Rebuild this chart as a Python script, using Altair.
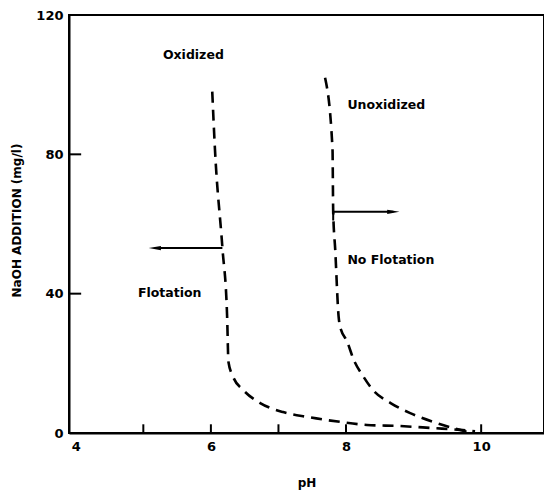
import altair as alt
import pandas as pd

# Curves (pH, addition mg/l)
ox_ph = [6.02, 6.06, 6.17, 6.24, 6.26, 6.33, 6.48, 6.73, 7.07, 7.43, 7.91, 8.31, 8.80, 9.29, 9.69, 9.91]
ox_val = [98, 81.5, 53.3, 33.5, 20.4, 16.1, 12.3, 8.6, 6.0, 4.6, 3.2, 2.3, 2.0, 1.4, 0.9, 0.5]
un_ph = [7.69, 7.80, 7.81, 7.84, 7.89, 7.91, 8.02, 8.11, 8.26, 8.40, 8.66, 8.95, 9.29, 9.59, 9.80]
un_val = [102, 81.5, 63.6, 52.7, 33.5, 30.7, 26.1, 21.2, 16.1, 12.3, 8.6, 5.7, 3.2, 1.4, 0.3]

# Annotations
label_text = ["Oxidized", "Unoxidized", "Flotation", "No Flotation"]
label_ph = [5.29, 8.02, 4.92, 8.02]
label_val = [108.5, 94.2, 40.2, 49.7]

# Arrows: start pH, end pH, level; head at end
arrow_start = [6.17, 7.81]
arrow_end = [5.17, 8.70]
arrow_level = [53.1, 63.5]
arrow_shape = ["M -1 0 L 1 -0.35 L 1 0.35 Z", "M 1 0 L -1 -0.35 L -1 0.35 Z"]

x_ticks = [5, 6, 7, 8, 10]
x_labels = [4, 6, 8, 10]
y_ticks = [40, 80]
y_labels = [0, 40, 80, 120]

X_DOM = [3.9, 10.93]
Y_DOM = [0, 120]

xs = alt.Scale(domain=X_DOM, nice=False, zero=False)
ys = alt.Scale(domain=Y_DOM, nice=False)

curves = pd.DataFrame(
    {"ph": ox_ph + un_ph, "val": ox_val + un_val,
     "s": ["ox"] * len(ox_ph) + ["un"] * len(un_ph),
     "o": list(range(len(ox_ph))) + list(range(len(un_ph)))}
)

base = alt.Chart(curves).mark_line(
    strokeDash=[11, 7], strokeWidth=2.6, color="black", interpolate="monotone"
).encode(
    x=alt.X("ph:Q", scale=xs, title="pH",
            axis=alt.Axis(values=x_labels, labelExpr="datum.value", tickSize=0,
                          labelPadding=7, titleY=44, titleBaseline="top",
                          grid=False)),
    y=alt.Y("val:Q", scale=ys, title="NaOH ADDITION (mg/l)",
            axis=alt.Axis(values=y_labels, tickSize=0, labelPadding=6,
                          titleX=-46, titleY=205, grid=False)),
    detail="s:N",
    order="o:Q",
)

# inward ticks
xt = pd.DataFrame({"x": x_ticks, "y0": [0] * len(x_ticks), "y1": [2.5] * len(x_ticks)})
xtick = alt.Chart(xt).mark_rule(color="black", strokeWidth=2).encode(
    x=alt.X("x:Q", scale=xs), y=alt.Y("y0:Q", scale=ys), y2="y1:Q")
yt = pd.DataFrame({"y": y_ticks, "x0": [X_DOM[0]] * 2, "x1": [X_DOM[0] + 0.18] * 2})
ytick = alt.Chart(yt).mark_rule(color="black", strokeWidth=2).encode(
    y=alt.Y("y:Q", scale=ys), x=alt.X("x0:Q", scale=xs), x2="x1:Q")

# arrows
ar = pd.DataFrame({"a": arrow_start, "b": arrow_end, "lv": arrow_level})
shafts = alt.Chart(ar).mark_rule(color="black", strokeWidth=2).encode(
    x=alt.X("a:Q", scale=xs), x2="b:Q", y=alt.Y("lv:Q", scale=ys))
heads = alt.layer(*[
    alt.Chart(pd.DataFrame({"x": [arrow_end[i]], "y": [arrow_level[i]]})).mark_point(
        shape=arrow_shape[i], size=150, filled=True, color="black", opacity=1
    ).encode(x=alt.X("x:Q", scale=xs), y=alt.Y("y:Q", scale=ys))
    for i in range(2)
])
bracket = alt.Chart(pd.DataFrame({"x": [arrow_start[1]], "y0": [arrow_level[1]], "y1": [61.0]})).mark_rule(
    color="black", strokeWidth=2).encode(x=alt.X("x:Q", scale=xs), y=alt.Y("y0:Q", scale=ys), y2="y1:Q")

labels = alt.Chart(pd.DataFrame({"t": label_text, "x": label_ph, "y": label_val})).mark_text(
    align="left", baseline="middle", font="DejaVu Sans", fontWeight="bold", fontSize=12.5, color="black"
).encode(x=alt.X("x:Q", scale=xs), y=alt.Y("y:Q", scale=ys), text="t:N")

chart = alt.layer(base, xtick, ytick, shafts, heads, bracket, labels).properties(
    width=475, height=418,
    autosize=alt.AutoSizeParams(type="none"),
    padding={"left": 61, "top": 7, "right": 0, "bottom": 62},
    background="white",
).configure_view(
    stroke="black", strokeWidth=2
).configure_axis(
    domainColor="black", domainWidth=2,
    labelFont="DejaVu Sans", labelFontWeight="bold", labelFontSize=13, labelColor="black",
    titleFont="DejaVu Sans", titleFontWeight="bold", titleFontSize=12, titleColor="black",
)

chart.save("out.html", embed_options={"renderer": "svg", "actions": False})
